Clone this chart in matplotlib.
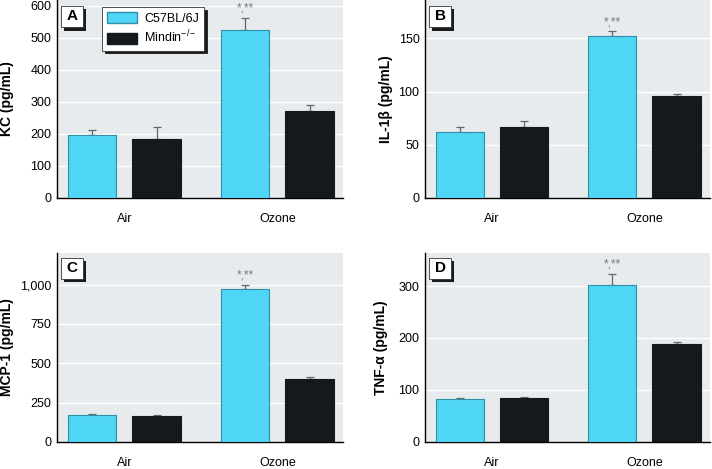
import matplotlib
matplotlib.use("Agg")
import matplotlib.pyplot as plt
from matplotlib.patches import Rectangle, Patch

plt.rcParams["font.family"] = ["Liberation Sans", "DejaVu Sans"]
plt.rcParams["mathtext.fontset"] = "custom"
plt.rcParams["mathtext.rm"] = "Liberation Sans"
plt.rcParams["mathtext.it"] = "Liberation Sans:italic"
plt.rcParams["mathtext.bf"] = "Liberation Sans:bold"

groups = ["Air", "Ozone"]
series = ["C57BL/6J", "Mindin$^{-/-}$"]

kc_wt = [198, 525]
kc_wt_err = [15, 38]
kc_ko = [183, 270]
kc_ko_err = [37, 20]

il1b_wt = [62, 152]
il1b_wt_err = [5, 5]
il1b_ko = [67, 96]
il1b_ko_err = [5, 1.5]

mcp1_wt = [172, 972]
mcp1_wt_err = [6, 28]
mcp1_ko = [163, 400]
mcp1_ko_err = [9, 15]

tnfa_wt = [82, 302]
tnfa_wt_err = [1.5, 22]
tnfa_ko = [85, 189]
tnfa_ko_err = [1.5, 4]

panels = [
    ("A", "KC (pg/mL)", kc_wt, kc_wt_err, kc_ko, kc_ko_err, [0, 100, 200, 300, 400, 500, 600], ["0", "100", "200", "300", "400", "500", "600"], 618),
    ("B", "IL-1β (pg/mL)", il1b_wt, il1b_wt_err, il1b_ko, il1b_ko_err, [0, 50, 100, 150], ["0", "50", "100", "150"], 186),
    ("C", "MCP-1 (pg/mL)", mcp1_wt, mcp1_wt_err, mcp1_ko, mcp1_ko_err, [0, 250, 500, 750, 1000], ["0", "250", "500", "750", "1,000"], 1203),
    ("D", "TNF-α (pg/mL)", tnfa_wt, tnfa_wt_err, tnfa_ko, tnfa_ko_err, [0, 100, 200, 300], ["0", "100", "200", "300"], 364),
]

positions = [
    [0.080, 0.578, 0.402, 0.422],
    [0.597, 0.578, 0.400, 0.422],
    [0.080, 0.058, 0.402, 0.403],
    [0.597, 0.058, 0.400, 0.403],
]
label_x = [-0.15, -0.112, -0.15, -0.13]

CYAN = "#4fd5f6"
CYAN_EDGE = "#2f8fa6"
DARK = "#14191d"
BG = "#e7ebee"
ERR = "#5a6a70"

fig = plt.figure(figsize=(7.12, 4.69), dpi=100)

for pos, lx, (label, ylabel, wt, wt_err, ko, ko_err, ticks, ticklabels, ytop) in zip(positions, label_x, panels):
    ax = fig.add_axes(pos)
    ax.set_facecolor(BG)
    x = [0, 1]
    off = 0.211
    w = 0.318
    ax.bar([i - off for i in x], wt, width=w, color=CYAN, edgecolor=CYAN_EDGE, linewidth=0.8, zorder=3)
    ax.bar([i + off for i in x], ko, width=w, color=DARK, edgecolor=DARK, linewidth=0.8, zorder=3)
    ax.errorbar([i - off for i in x], wt, yerr=[[0, 0], wt_err], fmt="none", ecolor=ERR,
                elinewidth=0.9, capsize=3, capthick=0.9, zorder=2)
    ax.errorbar([i + off for i in x], ko, yerr=[[0, 0], ko_err], fmt="none", ecolor=ERR,
                elinewidth=0.9, capsize=3, capthick=0.9, zorder=2)
    ax.set_xlim(-0.44, 1.43)
    ax.set_ylim(0, ytop)
    ax.set_yticks(ticks)
    ax.set_yticklabels(ticklabels)
    ax.set_xticks(x)
    ax.set_xticklabels(groups)
    ax.tick_params(length=0, labelsize=9, pad=4)
    ax.tick_params(axis="x", pad=11)
    for t in ticks[1:]:
        ax.axhline(t, color="white", linewidth=1.0, zorder=1)
    for s in ("top", "right"):
        ax.spines[s].set_visible(False)
    ax.spines["left"].set_linewidth(1.0)
    ax.spines["bottom"].set_linewidth(1.0)
    ax.set_ylabel(ylabel, fontsize=10, fontweight="bold")
    ax.yaxis.set_label_coords(lx, 0.5)

    # significance marks above ozone wild-type bar
    top = wt[1] + wt_err[1]
    ax.annotate("*,**", (1 - off, top), xytext=(0, 2), textcoords="offset points",
                ha="center", va="bottom", fontsize=8.5, color="#707a80", zorder=4)

    # panel letter with drop shadow
    ax.add_patch(Rectangle((0.024, 0.845), 0.077, 0.11, transform=ax.transAxes,
                           facecolor="#1a1a1a", edgecolor="none", zorder=5, clip_on=False))
    ax.add_patch(Rectangle((0.014, 0.862), 0.077, 0.11, transform=ax.transAxes,
                           facecolor="white", edgecolor="#333333", linewidth=0.6, zorder=6, clip_on=False))
    ax.text(0.0525, 0.917, label, transform=ax.transAxes, ha="center", va="center",
            fontsize=11, fontweight="bold", zorder=7)

    if label == "A":
        handles = [Patch(facecolor=CYAN, edgecolor=CYAN_EDGE), Patch(facecolor=DARK, edgecolor=DARK)]
        leg = ax.legend(handles, series, loc="upper left", bbox_to_anchor=(0.135, 0.995),
                        fontsize=9, frameon=True, fancybox=False, shadow={"color": "#1a1a1a", "alpha": 1.0},
                        edgecolor="#333333", framealpha=1.0, handlelength=2.4, handleheight=0.9,
                        borderpad=0.4, labelspacing=0.35, handletextpad=0.6)
        leg.get_frame().set_linewidth(0.6)
        leg.set_zorder(8)

fig.savefig("out.png", dpi=100)
